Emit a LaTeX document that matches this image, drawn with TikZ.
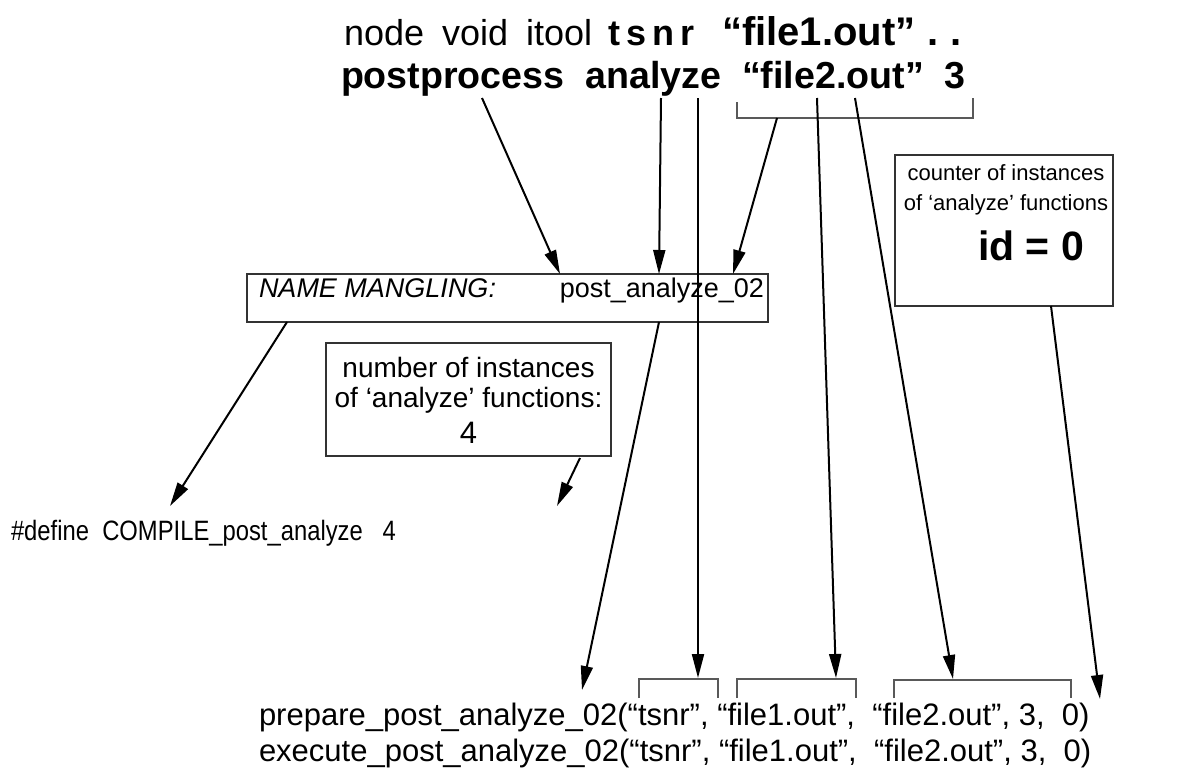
\documentclass[tikz,border=0pt]{standalone}
\usepackage{fontspec}
\setmainfont{Liberation Sans}
\newfontfamily\narrowsans[FakeStretch=0.85]{Liberation Sans}
\usetikzlibrary{arrows.meta}

\begin{document}
\begin{tikzpicture}[x=0.5pt,y=-0.5pt,>={Triangle[length=12pt,width=6pt]},
  line width=1pt,
  box/.style={draw=black!80,line width=0.7pt,inner sep=0pt},
  bracket/.style={draw=black!65,line width=0.6pt},
  txt/.style={inner sep=0pt,anchor=base west},
  big/.style={font=\fontsize{18.8}{23}\selectfont},
  code/.style={font=\fontsize{15.5}{18}\selectfont},
  small/.style={font=\fontsize{11}{13}\selectfont}]
  \useasboundingbox (0,0) rectangle (1178,772);

  % command line
  \node[txt,font=\fontsize{18}{22}\selectfont] (cmdA) at (343,45) {node\hspace{9pt}void\hspace{9pt}itool\hspace{8pt}\textbf{t\,s\,n\,r}\hspace{14pt}\textbf{\fontsize{20}{22}\selectfont“file1.out”\hspace{6pt}.\hspace{6pt}.}};
  \node[txt,big] (cmdB) at (340,88) {\bfseries postprocess\ \ analyze\ \ “file2.out”\ \ 3};

  % boxes
  \node[box,minimum width=260.5pt,minimum height=24pt] (mangle) at (507.5,298) {};
  \node[txt,font=\fontsize{13.5}{16}\selectfont\itshape] (mangleL) at (258,297) {NAME MANGLING:};
  \node[txt,font=\fontsize{13.5}{16}\selectfont,anchor=base east] (mangleR) at (765,297) {post\_analyze\_02};

  \node[box,minimum width=142.5pt,minimum height=56.5pt] (count) at (468.5,399.5) {};
  \node[txt,font=\fontsize{14}{16}\selectfont,anchor=base] (countA) at (468.5,377) {number of instances};
  \node[txt,font=\fontsize{14}{16}\selectfont,anchor=base] (countB) at (468.5,407) {of ‘analyze’ functions:};
  \node[txt,font=\fontsize{15.5}{18}\selectfont,anchor=base] (countC) at (468.5,443) {4};

  \node[box,minimum width=109pt,minimum height=75.5pt] (ident) at (1004,230.5) {};
  \node[txt,small,anchor=base] (identA) at (1006,180) {counter of instances};
  \node[txt,small,anchor=base] (identB) at (1006,210) {of ‘analyze’ functions};
  \node[txt,font=\fontsize{20.5}{24}\selectfont\bfseries,anchor=base] (identC) at (1031,260) {id = 0};

  % generated code
  \node[txt,font=\narrowsans\fontsize{14}{16}\selectfont] (define) at (10,540) {\#define\ \ COMPILE\_post\_analyze\ \ \ 4};
  \node[txt,code] (prep) at (258,725) {prepare\_post\_analyze\_02(“tsnr”, “file1.out”,\ \ “file2.out”, 3,\ \ 0)};
  \node[txt,code] (exec) at (258,761) {execute\_post\_analyze\_02(“tsnr”, “file1.out”,\ \ “file2.out”, 3,\ \ 0)};

  % brackets
  \draw[bracket] (737,102) -- (737,118) -- (973,118) -- (973,98);
  \draw[bracket] (639,698) -- (639,679) -- (718,679) -- (718,698);
  \draw[bracket] (737,698) -- (737,679) -- (856,679) -- (856,698);
  \draw[bracket] (894,698) -- (894,680) -- (1071,680) -- (1071,698);

  % arrow ends
  \coordinate (pp) at (482,98);
  \coordinate (an) at (661,98);
  \coordinate (anR) at (698,98);
  \coordinate (fl) at (777,118);
  \coordinate (fa) at (817,98);
  \coordinate (fb) at (855,98);
  \coordinate (mgA) at (560,274);
  \coordinate (mgB) at (659,274);
  \coordinate (mgC) at (733,274);
  \coordinate (mgL) at (287,322);
  \coordinate (mgR) at (659,322);
  \coordinate (cnt) at (580,458);
  \coordinate (idb) at (1051,306);
  \coordinate (def) at (170,506);
  \coordinate (defN) at (557,506);
  \coordinate (name) at (582,690);
  \coordinate (ts) at (698,678);
  \coordinate (f1) at (836,678);
  \coordinate (f2) at (953,679);
  \coordinate (zero) at (1100,699);

  \path[->]
    (pp) edge (mgA)
    (an) edge (mgB)
    (fl) edge (mgC)
    (anR) edge (ts)
    (fa) edge (f1)
    (fb) edge (f2)
    (mgL) edge (def)
    (cnt) edge (defN)
    (mgR) edge (name)
    (idb) edge (zero);
\end{tikzpicture}
\end{document}
